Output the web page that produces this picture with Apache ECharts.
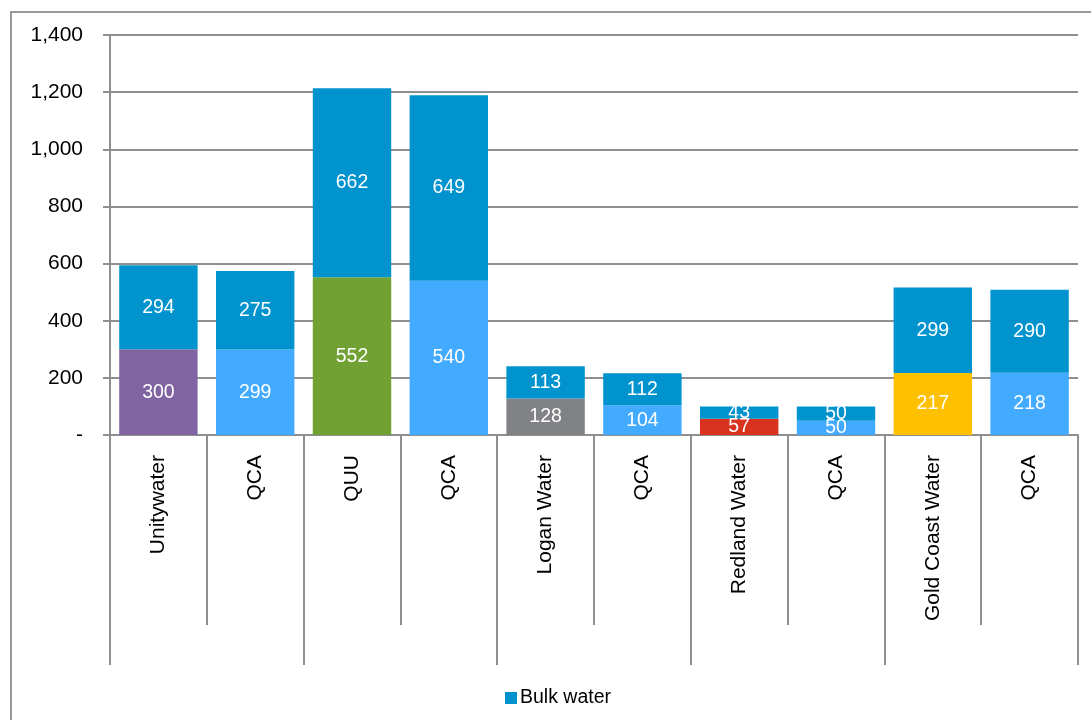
<!DOCTYPE html>
<html>
<head>
<meta charset="utf-8">
<script src="https://cdn.jsdelivr.net/npm/echarts@6/dist/echarts.min.js"></script>
<style>
html,body{margin:0;padding:0;background:#fff;}
#frame{position:absolute;left:10px;top:11px;width:1100px;height:720px;border-top:2px solid #9a9a9a;border-left:2px solid #9a9a9a;}
#chart{position:absolute;left:0;top:0;width:1091px;height:720px;}
</style>
</head>
<body>
<div id="frame"></div>
<div id="chart"></div>
<script>
const categories = ['Unitywater','QCA','QUU','QCA','Logan Water','QCA','Redland Water','QCA','Gold Coast Water','QCA'];
const groups = ['Unitywater','QUU','Logan Water','Redland Water','Gold Coast Water'];
const baseValues = [300, 299, 552, 540, 128, 104, 57, 50, 217, 218];
const bulkValues = [294, 275, 662, 649, 113, 112, 43, 50, 299, 290];
const baseColors = ['#8064A2','#42AAFF','#71A033','#42AAFF','#808285','#42AAFF','#D9321F','#42AAFF','#FFC000','#42AAFF'];
const bulkColor = '#0093CD';

const chart = echarts.init(document.getElementById('chart'), null, {renderer:'canvas'});
const font = 'Liberation Sans, Arial, sans-serif';
const grey = '#8f8f8f';

chart.setOption({
  animation: false,
  textStyle: {fontFamily: font},
  grid: {left: 110, right: 13, top: 35, bottom: 285, containLabel: false},
  legend: {
    data: ['Bulk water'],
    left: 500, top: 683,
    icon: 'rect', itemWidth: 12, itemHeight: 12, itemGap: 4,
    textStyle: {fontSize: 19.5, color: '#000', fontFamily: font, padding: [0,0,0,-2]}
  },
  xAxis: [{
    type: 'category',
    data: categories,
    position: 'bottom',
    axisLine: {show: true, lineStyle: {color: grey, width: 2}},
    axisTick: {show: true, interval: 0, length: 190, lineStyle: {color: grey, width: 2}},
    axisLabel: {interval: 0, rotate: 90, margin: 20, fontSize: 21, color: '#000', fontFamily: font}
  }, {
    type: 'category',
    data: groups,
    position: 'bottom',
    axisLine: {show: false},
    axisTick: {show: true, interval: 0, length: 230, lineStyle: {color: grey, width: 2}},
    axisLabel: {show: false},
    splitLine: {show: false}
  }],
  yAxis: {
    type: 'value',
    min: 0, max: 1400, interval: 200,
    axisLine: {show: true, lineStyle: {color: grey, width: 2}},
    axisTick: {show: true, length: 7, inside: false, lineStyle: {color: grey, width: 2}},
    splitLine: {show: true, lineStyle: {color: grey, width: 2}},
    axisLabel: {
      margin: 27, fontSize: 21, color: '#000', fontFamily: font,
      formatter: v => (v === 0 ? '-' : v.toLocaleString('en-US'))
    }
  },
  series: [{
    name: 'Own',
    type: 'bar',
    stack: 'total',
    barCategoryGap: '19%',
    data: baseValues.map((v, i) => ({value: v, itemStyle: {color: baseColors[i]}})),
    label: {show: true, position: 'inside', color: '#fff', fontSize: 19.5, fontFamily: font}
  }, {
    name: 'Bulk water',
    type: 'bar',
    stack: 'total',
    barCategoryGap: '19%',
    itemStyle: {color: bulkColor},
    data: bulkValues,
    label: {show: true, position: 'inside', color: '#fff', fontSize: 19.5, fontFamily: font}
  }]
});
</script>
</body>
</html>
